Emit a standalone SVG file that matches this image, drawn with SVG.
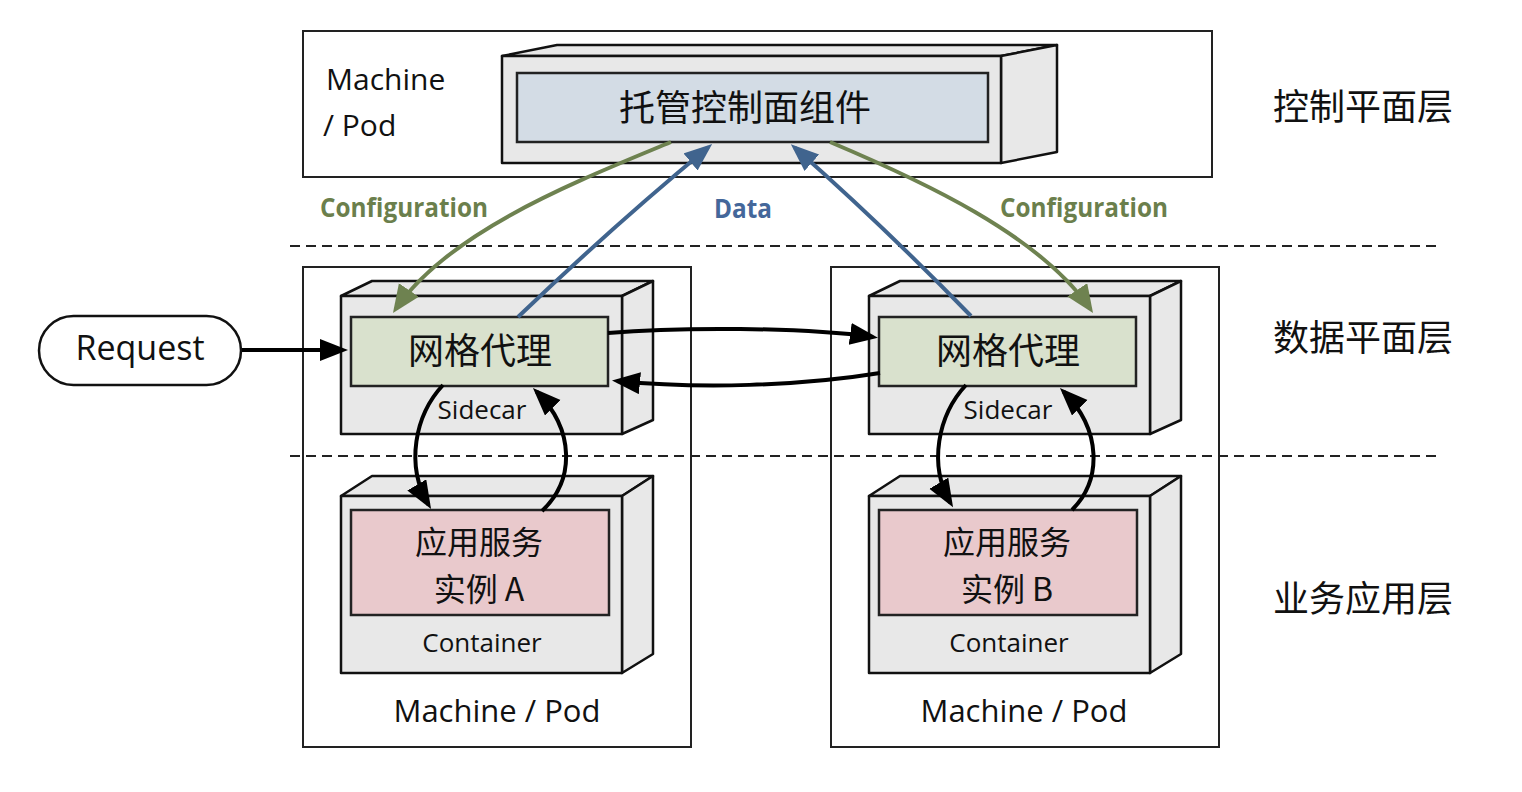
<svg xmlns="http://www.w3.org/2000/svg" width="1522" height="792" viewBox="0 0 1522 792">
<defs>
<style>
.frame{fill:none;stroke:#222;stroke-width:2}
.box{fill:#e8e8e8;stroke:#111;stroke-width:2.5;stroke-linejoin:round}
.blue{fill:#d3dce5;stroke:#222;stroke-width:2.5}
.green{fill:#d9e1cd;stroke:#222;stroke-width:2.5}
.pink{fill:#e9c9cc;stroke:#222;stroke-width:2.5}
.dash{stroke:#222;stroke-width:2;stroke-dasharray:10 6;fill:none}
.lat{font-family:"Open Sans","Noto Sans",sans-serif;fill:#111}
.cjk{font-family:"Noto Sans CJK SC",sans-serif;fill:#111}
.lbl{font-family:"Open Sans","Noto Sans",sans-serif;font-weight:bold;font-size:27px}
.ka{fill:none;stroke:#000;stroke-width:4}
.ga{fill:none;stroke:#6e8250;stroke-width:4}
.ba{fill:none;stroke:#40648e;stroke-width:4}
</style>
<marker id="mk" markerUnits="userSpaceOnUse" markerWidth="30" markerHeight="24" refX="23" refY="11" orient="auto"><path d="M0,0 L28,11 L0,22 z" fill="#000"/></marker>
<marker id="mg" markerUnits="userSpaceOnUse" markerWidth="30" markerHeight="26" refX="23" refY="12" orient="auto"><path d="M0,0 L28,12 L0,24 z" fill="#6e8250"/></marker>
<marker id="mb" markerUnits="userSpaceOnUse" markerWidth="30" markerHeight="24" refX="23" refY="11" orient="auto"><path d="M0,0 L28,11 L0,22 z" fill="#40648e"/></marker>
</defs>
<rect width="1522" height="792" fill="#fff"/>

<g id="layers">
<line class="dash" x1="290" y1="246" x2="1440" y2="246"/>
<line class="dash" x1="290" y1="456" x2="1440" y2="456"/>
<text class="cjk" x="1273" y="120" font-size="36">控制平面层</text>
<text class="cjk" x="1273" y="351" font-size="36">数据平面层</text>
<text class="cjk" x="1273" y="612" font-size="36">业务应用层</text>
</g>

<g id="control-pod">
<rect class="frame" x="303" y="31" width="909" height="146"/>
<text class="lat" x="326" y="90" font-size="30">Machine</text>
<text class="lat" x="323" y="136" font-size="30">/ Pod</text>
</g>
<g id="control-box">
<polygon class="box" points="502,56 557,45 1057,45 1001,56"/>
<polygon class="box" points="1001,56 1057,45 1057,152 1001,163"/>
<rect class="box" x="502" y="56" width="499" height="107"/>
<rect class="blue" x="517" y="73" width="471" height="69"/>
<text class="cjk" x="745" y="121" font-size="36" text-anchor="middle">托管控制面组件</text>
</g>

<g id="request">
<rect x="39" y="316" width="202" height="69" rx="34.5" fill="#fff" stroke="#111" stroke-width="2.5"/>
<text class="lat" x="140" y="360" font-size="34" text-anchor="middle">Request</text>
</g>

<g id="pod-a">
<rect class="frame" x="303" y="267" width="388" height="480"/>
<text class="lat" x="497" y="722" font-size="31" text-anchor="middle">Machine / Pod</text>
</g>
<g id="sidecar-a">
<polygon class="box" points="341,296 372,281 653,281 622,296"/>
<polygon class="box" points="622,296 653,281 653,420 622,434"/>
<rect class="box" x="341" y="296" width="281" height="138"/>
<rect class="green" x="351" y="317" width="257" height="69"/>
<text class="cjk" x="480" y="364" font-size="36" text-anchor="middle">网格代理</text>
<text class="lat" x="482" y="419" font-size="26" text-anchor="middle">Sidecar</text>
</g>
<g id="container-a">
<polygon class="box" points="341,496 372,476 653,476 622,496"/>
<polygon class="box" points="622,496 653,476 653,654 622,673"/>
<rect class="box" x="341" y="496" width="281" height="177"/>
<rect class="pink" x="351" y="510" width="258" height="105"/>
<text class="cjk" x="479" y="554" font-size="32" text-anchor="middle">应用服务</text>
<text class="cjk" x="479" y="601" font-size="32" text-anchor="middle">实例 A</text>
<text class="lat" x="482" y="652" font-size="26" text-anchor="middle">Container</text>
</g>

<g id="pod-b">
<rect class="frame" x="831" y="267" width="388" height="480"/>
<text class="lat" x="1024" y="722" font-size="31" text-anchor="middle">Machine / Pod</text>
</g>
<g id="sidecar-b">
<polygon class="box" points="869,296 900,281 1181,281 1150,296"/>
<polygon class="box" points="1150,296 1181,281 1181,420 1150,434"/>
<rect class="box" x="869" y="296" width="281" height="138"/>
<rect class="green" x="879" y="317" width="257" height="69"/>
<text class="cjk" x="1008" y="364" font-size="36" text-anchor="middle">网格代理</text>
<text class="lat" x="1008" y="419" font-size="26" text-anchor="middle">Sidecar</text>
</g>
<g id="container-b">
<polygon class="box" points="869,496 900,476 1181,476 1150,496"/>
<polygon class="box" points="1150,496 1181,476 1181,654 1150,673"/>
<rect class="box" x="869" y="496" width="281" height="177"/>
<rect class="pink" x="879" y="510" width="258" height="105"/>
<text class="cjk" x="1007" y="554" font-size="32" text-anchor="middle">应用服务</text>
<text class="cjk" x="1007" y="601" font-size="32" text-anchor="middle">实例 B</text>
<text class="lat" x="1009" y="652" font-size="26" text-anchor="middle">Container</text>
</g>

<g id="connectors">
<path class="ka" d="M242,350 L343,350" marker-end="url(#mk)"/>
<path class="ka" d="M608,333 C680,327 800,327 873,337" marker-end="url(#mk)"/>
<path class="ka" d="M880,373 C800,386 700,389 617,381" marker-end="url(#mk)"/>
<path class="ka" d="M443,385 C415,415 405,465 428.5,504.7" marker-end="url(#mk)"/>
<path class="ka" d="M542,511 C575,480 575,430 536.5,391.5" marker-end="url(#mk)"/>
<path class="ka" d="M966,385 C938,415 928,465 950.5,503" marker-end="url(#mk)"/>
<path class="ka" d="M1072,510 C1102,480 1102,430 1063.5,391.5" marker-end="url(#mk)"/>
<path class="ga" d="M671,142 C580,180 450,230 395.8,308.9" marker-end="url(#mg)"/>
<path class="ga" d="M830,142 C920,180 1040,235 1090.2,308.9" marker-end="url(#mg)"/>
<path class="ba" d="M518,317 Q612,227 708.3,147.3" marker-end="url(#mb)"/>
<path class="ba" d="M971,316 Q884,226.5 794.6,147.5" marker-end="url(#mb)"/>
<text class="lbl" x="320" y="217" fill="#6b7f4c" textLength="168" lengthAdjust="spacingAndGlyphs">Configuration</text>
<text class="lbl" x="1000" y="217" fill="#6b7f4c" textLength="168" lengthAdjust="spacingAndGlyphs">Configuration</text>
<text class="lbl" x="714" y="218" fill="#44679a" textLength="58" lengthAdjust="spacingAndGlyphs">Data</text>
</g>
</svg>
